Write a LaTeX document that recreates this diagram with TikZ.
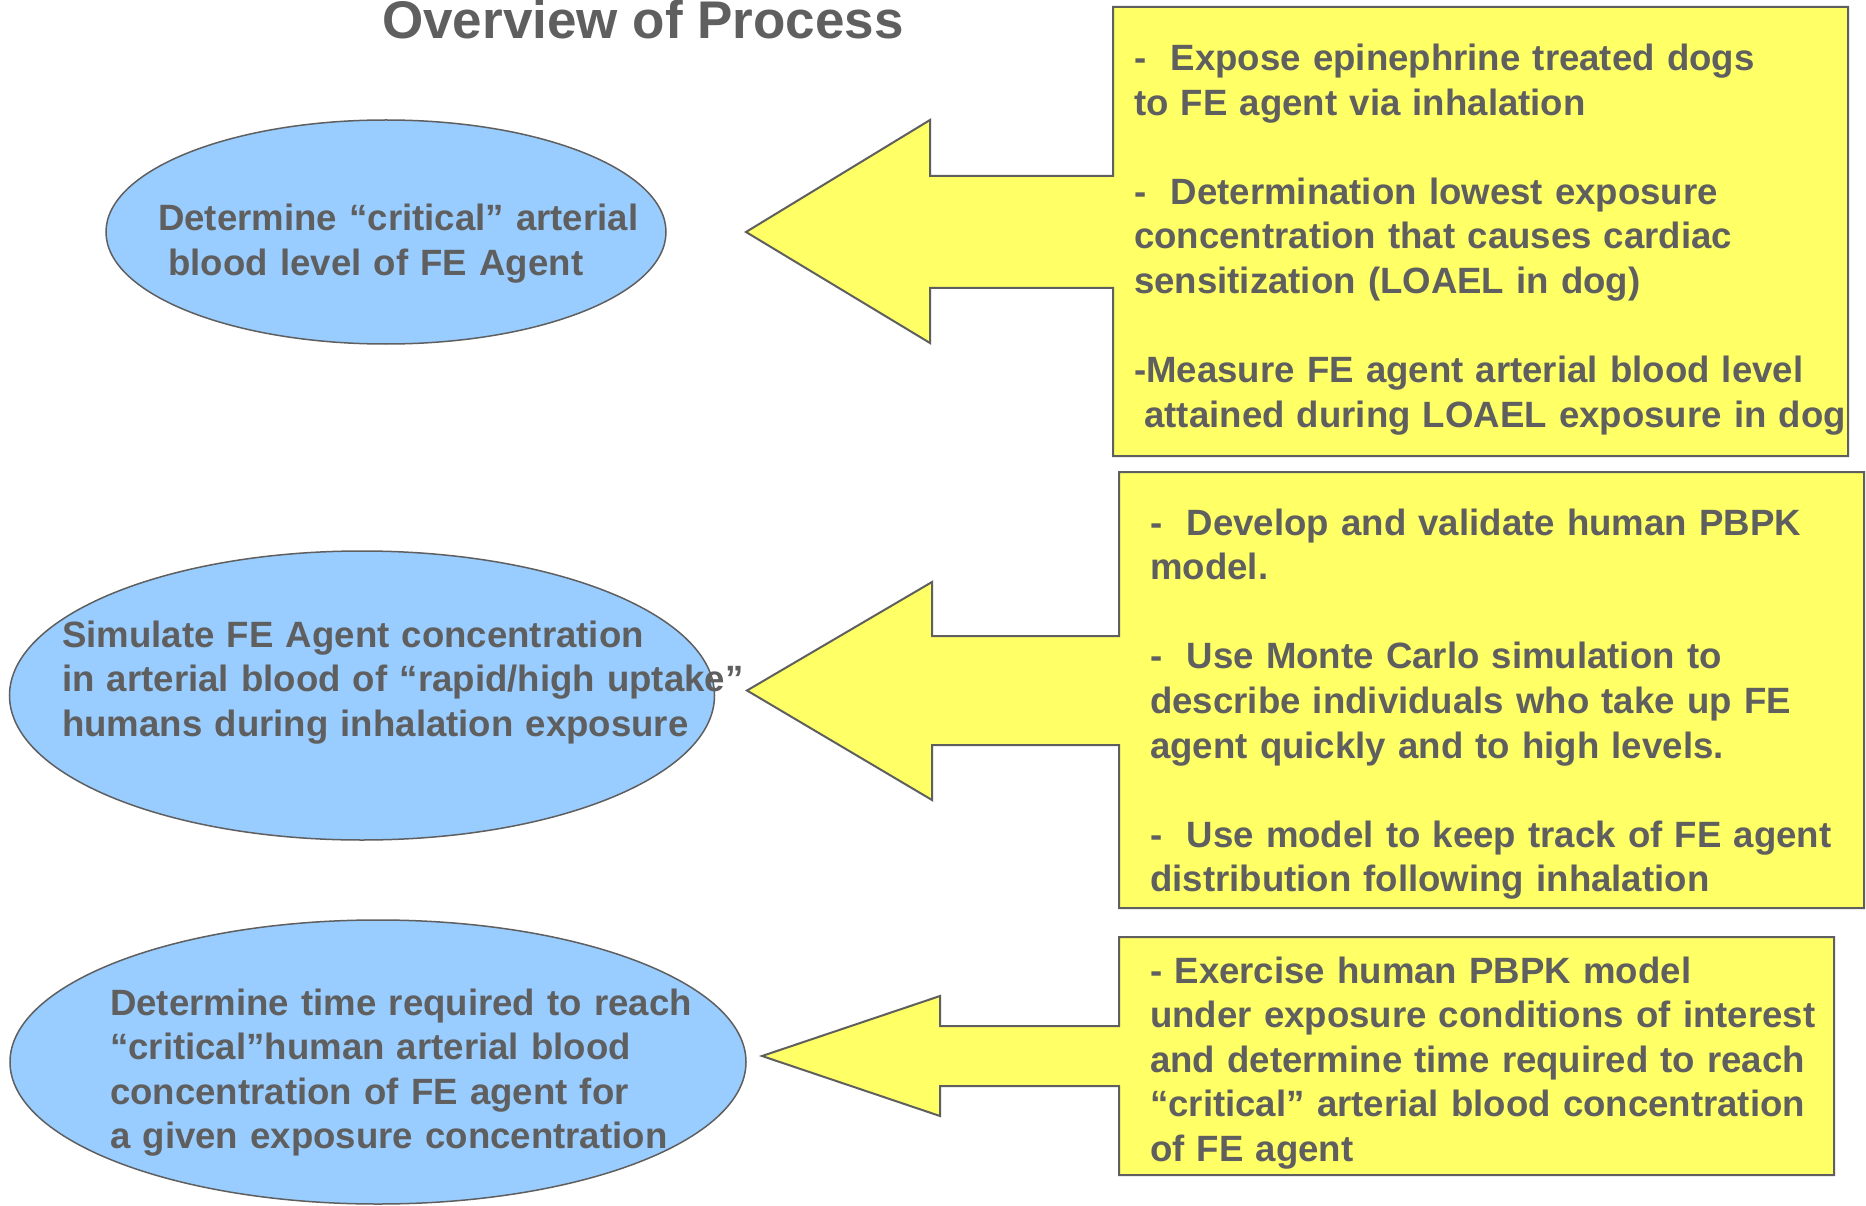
\documentclass[tikz,border=0pt]{standalone}
\usepackage{fontspec}
\setmainfont{Liberation Sans}
\usetikzlibrary{shapes.geometric}
\definecolor{txt}{HTML}{5F5F5F}
\definecolor{lineg}{HTML}{5F5F5F}
\definecolor{yel}{HTML}{FFFF66}
\definecolor{blu}{HTML}{99CCFF}
\begin{document}
\begin{tikzpicture}[x=1pt,y=-1pt,
  callout/.style={fill=yel,draw=lineg,line width=2pt,line join=miter},
  oval/.style={ellipse,fill=blu,draw=lineg,line width=1.5pt,inner sep=0pt},
  body/.style={text=txt,font=\bfseries\fontsize{36.6}{44.6}\selectfont,text width=800pt,align=left,inner sep=0pt,anchor=base west},
  heading/.style={text=txt,font=\bfseries\fontsize{53}{60}\selectfont,inner sep=0pt,anchor=base}
]
\useasboundingbox (0,0) rectangle (1866,1206);
\fill[white] (0,0) rectangle (1866,1206);

% title
\node[heading] (title) at (643,39) {Overview of Process};

% ellipses
\node[oval,minimum width=560pt,minimum height=224pt] (e1) at (386,232) {};
\node[oval,minimum width=705pt,minimum height=289pt] (e2) at (362,695.5) {};
\node[oval,minimum width=736pt,minimum height=284pt] (e3) at (378,1062) {};

% callouts
\draw[callout] (1113,7) -- (1848,7) -- (1848,456) -- (1113,456) -- (1113,288)
  -- (930,288) -- (930,343) -- (746,232) -- (930,120) -- (930,176) -- (1113,176) -- cycle;
\draw[callout] (1119,472) -- (1864,472) -- (1864,908) -- (1119,908) -- (1119,745)
  -- (932,745) -- (932,800) -- (747,690.5) -- (932,582) -- (932,636) -- (1119,636) -- cycle;
\draw[callout] (1119,937) -- (1834,937) -- (1834,1175) -- (1119,1175) -- (1119,1086)
  -- (940,1086) -- (940,1116) -- (762,1056) -- (940,996) -- (940,1026) -- (1119,1026) -- cycle;

% ellipse texts
\node[body] (t1) at (158,231) {Determine “critical” arterial\\
\hspace*{0.278em}blood level of FE Agent};
\node[body] (t2) at (62,647) {Simulate FE Agent concentration\\
in arterial blood of “rapid/high uptake”\\
humans during inhalation exposure};
\node[body] (t3) at (110,1015) {Determine time required to reach\\
“critical”human arterial blood\\
concentration of FE agent for\\
a given exposure concentration};

% callout texts
\node[body] (b1) at (1134,70.5) {-\ \ Expose epinephrine treated dogs\\
to FE agent via inhalation\\
\mbox{}\\
-\ \ Determination lowest exposure\\
concentration that causes cardiac\\
sensitization (LOAEL in dog)\\
\mbox{}\\
-Measure FE agent arterial blood level\\
\hspace*{0.278em}attained during LOAEL exposure in dog};
\node[body] (b2) at (1150,535) {-\ \ Develop and validate human PBPK\\
model.\\
\mbox{}\\
-\ \ Use Monte Carlo simulation to\\
describe individuals who take up FE\\
agent quickly and to high levels.\\
\mbox{}\\
-\ \ Use model to keep track of FE agent\\
distribution following inhalation};
\node[body] (b3) at (1150,983) {- Exercise human PBPK model\\
under exposure conditions of interest\\
and determine time required to reach\\
“critical” arterial blood concentration\\
of FE agent};
\end{tikzpicture}
\end{document}
